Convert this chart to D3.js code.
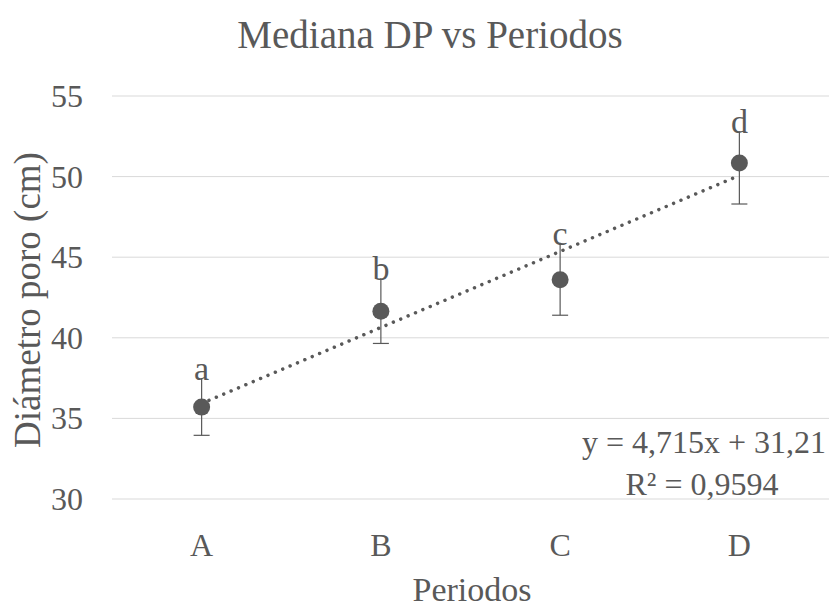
<!DOCTYPE html>
<html>
<head>
<meta charset="utf-8">
<script src="https://cdn.jsdelivr.net/npm/d3@7"></script>
</head>
<body style="margin:0">
<script>
var width = 829, height = 608;

// datos
var periodos = ["A", "B", "C", "D"];
var mediana = [35.7, 41.65, 43.6, 50.85];
var errSup = [1.8, 2.05, 2.3, 1.95];
var errInf = [1.75, 2.0, 2.2, 2.55];
var letras = ["a", "b", "c", "d"];
var yTicks = [30, 35, 40, 45, 50, 55];
// linea de tendencia y = 4,715x + 31,21
var pendiente = 4.715, intercepto = 31.21;

var margin = {left: 112, right: 0, top: 96, bottom: 109};
var gris = "#595959";

var svg = d3.select("body")
    .append("svg")
    .attr("width", width)
    .attr("height", height);

var x = d3.scaleBand()
    .domain(periodos)
    .range([margin.left, width - margin.right])
    .padding(0);

var y = d3.scaleLinear()
    .domain([30, 55])
    .range([height - margin.bottom, margin.top]);

var cx = function(d) { return x(d) + x.bandwidth() / 2; };

// lineas de cuadricula
svg.append("g")
    .selectAll("line")
    .data(yTicks)
    .enter()
    .append("line")
    .attr("x1", margin.left)
    .attr("x2", width - margin.right)
    .attr("y1", function(d) { return y(d); })
    .attr("y2", function(d) { return y(d); })
    .attr("stroke", "#d9d9d9")
    .attr("stroke-width", 1);

// linea de tendencia punteada
svg.append("line")
    .attr("x1", cx(periodos[0]))
    .attr("x2", cx(periodos[3]))
    .attr("y1", y(pendiente * 1 + intercepto))
    .attr("y2", y(pendiente * 4 + intercepto))
    .attr("stroke", gris)
    .attr("stroke-width", 3.5)
    .attr("stroke-linecap", "round")
    .attr("stroke-dasharray", "0.01 8");

// barras de error
var err = svg.append("g").selectAll("g")
    .data(periodos)
    .enter()
    .append("g");

err.append("line")
    .attr("x1", cx).attr("x2", cx)
    .attr("y1", function(d, i) { return y(mediana[i] + errSup[i]); })
    .attr("y2", function(d, i) { return y(mediana[i] - errInf[i]); })
    .attr("stroke", gris)
    .attr("stroke-width", 1.2);

err.append("line")
    .attr("x1", function(d) { return cx(d) - 8; })
    .attr("x2", function(d) { return cx(d) + 8; })
    .attr("y1", function(d, i) { return y(mediana[i] - errInf[i]); })
    .attr("y2", function(d, i) { return y(mediana[i] - errInf[i]); })
    .attr("stroke", gris)
    .attr("stroke-width", 1.2);

// puntos
svg.append("g")
    .selectAll("circle")
    .data(periodos)
    .enter()
    .append("circle")
    .attr("cx", cx)
    .attr("cy", function(d, i) { return y(mediana[i]); })
    .attr("r", 8.5)
    .attr("fill", gris);

// todos los textos en una lista, como en la prueba de fuentes
var textos = [];
yTicks.forEach(function(t) {
    textos.push({t: String(t), x: 83, y: y(t) + 11, s: 32, a: "end"});
});
periodos.forEach(function(p, i) {
    textos.push({t: p, x: cx(p), y: 556, s: 32, a: "middle"});
    textos.push({t: letras[i], x: cx(p), y: y(mediana[i] + errSup[i]) + 2, s: 34, a: "middle"});
});
textos.push({t: "Mediana DP vs Periodos", x: 430, y: 48, s: 39, a: "middle"});
textos.push({t: "Periodos", x: 472, y: 601, s: 34, a: "middle"});
textos.push({t: "y = 4,715x + 31,21", x: 704, y: 453, s: 32, a: "middle"});
textos.push({t: "R² = 0,9594", x: 702, y: 495, s: 32, a: "middle"});

svg.append("g")
    .selectAll("text")
    .data(textos)
    .enter()
    .append("text")
    .attr("x", function(d) { return d.x; })
    .attr("y", function(d) { return d.y; })
    .attr("font-family", function(d) { return "Liberation Serif"; })
    .attr("font-size", function(d) { return d.s; })
    .attr("text-anchor", function(d) { return d.a; })
    .attr("fill", gris)
    .text(function(d) { return d.t; });

svg.append("text")
    .attr("transform", "translate(40,300) rotate(-90)")
    .attr("font-family", "Liberation Serif")
    .attr("font-size", 37)
    .attr("text-anchor", "middle")
    .attr("fill", gris)
    .text("Diámetro poro (cm)");
</script>
</body>
</html>
